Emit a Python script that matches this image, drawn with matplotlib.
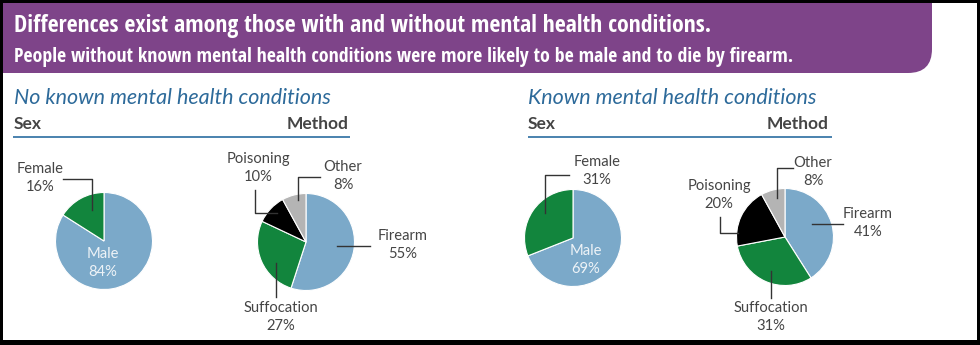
import matplotlib.pyplot as plt
from matplotlib.patches import PathPatch, Rectangle
from matplotlib.path import Path

W, H = 980, 345

title = "Differences exist among those with and without mental health conditions."
subtitle = "People without known mental health conditions were more likely to be male and to die by firearm."

groups = ["No known mental health conditions", "Known mental health conditions"]
sex_labels = ["Male", "Female"]
sex_no = [84, 16]
sex_known = [69, 31]
method_labels = ["Firearm", "Suffocation", "Poisoning", "Other"]
method_no = [55, 27, 10, 8]
method_known = [41, 31, 20, 8]

blue = '#7ba9c9'
green = '#12853d'
sex_colors = [blue, green]
method_colors = [blue, green, '#000000', '#b4b4b4']
purple = '#7e4489'
head_blue = '#2d6a9a'
grey = '#454545'

# layout, in pixels from the top-left corner
panels = [
    dict(head_x=14, rule=(13, 350), method_x=348,
         sex_c=(104, 241), met_c=(306, 242),
         sex_txt={'Female': (40, 178), 'Male': (103, 263)},
         met_txt={'Poisoning': (258, 168), 'Other': (343, 176),
                  'Firearm': (403, 245), 'Suffocation': (281, 317)},
         leaders=[[(63, 179), (92, 179), (92, 210)],
                  [(255, 190), (255, 213), (277, 213)],
                  [(320, 177), (298, 177), (298, 200)],
                  [(370, 246), (337, 246)],
                  [(276, 297), (276, 263)]]),
    dict(head_x=528, rule=(528, 832), method_x=828,
         sex_c=(573, 238), met_c=(785, 237),
         sex_txt={'Female': (597, 171), 'Male': (586, 260)},
         met_txt={'Poisoning': (719, 195), 'Other': (813, 172),
                  'Firearm': (868, 223), 'Suffocation': (771, 317)},
         leaders=[[(569, 175), (545, 175), (545, 213)],
                  [(720, 217), (720, 233), (738, 233)],
                  [(793, 168), (777, 168), (777, 198)],
                  [(843, 224), (812, 224)],
                  [(771, 298), (771, 271)]]),
]
R = 48.5

body = ['Lato', 'DejaVu Sans']
cond = ['Open Sans Condensed', 'DejaVu Sans']

fig = plt.figure(figsize=(W / 100, H / 100), dpi=100, facecolor='black')
ax = fig.add_axes([0, 0, 1, 1])
ax.set_facecolor('white')

# white card inside a black frame
ax.add_patch(Rectangle((3, 3), 974, 337, facecolor='white', edgecolor='none', zorder=0))

# purple banner, round bottom-right corner only
x0, x1, y0, y1, rc = 3, 932, 3, 73, 24
verts = [(x0, y0), (x1, y0), (x1, y1 - rc), (x1, y1), (x1 - rc, y1), (x0, y1), (x0, y0)]
codes = [Path.MOVETO, Path.LINETO, Path.LINETO, Path.CURVE3, Path.CURVE3, Path.LINETO, Path.CLOSEPOLY]
ax.add_patch(PathPatch(Path(verts, codes), facecolor=purple, edgecolor='none', zorder=1))

ax.text(14, 32, title, color='white', fontsize=17.1, fontweight='bold', family=cond, va='baseline', zorder=2)
ax.text(14, 62, subtitle, color='white', fontsize=14.2, fontweight='bold', family=cond, va='baseline', zorder=2)

sex_vals = [sex_no, sex_known]
met_vals = [method_no, method_known]

# y axis runs downward, so pies use startangle=-90 and counterclock=True
# to come out clockwise from 12 o'clock on screen
for i, p in enumerate(panels):
    ax.text(p['head_x'], 104, groups[i], color=head_blue, fontsize=15.5, style='italic',
            family=body, va='baseline')
    ax.text(p['head_x'], 129, 'Sex', color=grey, fontsize=12.5, fontweight='bold', family=body, va='baseline')
    ax.text(p['method_x'], 129, 'Method', color=grey, fontsize=12.5, fontweight='bold', family=body,
            va='baseline', ha='right')
    ax.plot(p['rule'], [137, 137], color='#3c78a8', lw=1.3, solid_capstyle='butt')

    ax.pie(sex_vals[i], colors=sex_colors, center=p['sex_c'], radius=R, startangle=-90,
           counterclock=True, wedgeprops=dict(edgecolor='white', linewidth=0.8))
    ax.pie(met_vals[i], colors=method_colors, center=p['met_c'], radius=R, startangle=-90,
           counterclock=True, wedgeprops=dict(edgecolor='white', linewidth=0.8))

    for lab, v in zip(sex_labels, sex_vals[i]):
        x, y = p['sex_txt'][lab]
        c = '#eef3f7' if lab == 'Male' else grey
        ax.text(x, y, f"{lab}\n{v}%", color=c, fontsize=10.6, family=body, ha='center',
                va='center', linespacing=1.4)
    for lab, v in zip(method_labels, met_vals[i]):
        x, y = p['met_txt'][lab]
        ax.text(x, y, f"{lab}\n{v}%", color=grey, fontsize=10.6, family=body, ha='center',
                va='center', linespacing=1.4)
    for pts in p['leaders']:
        xs, ys = zip(*pts)
        ax.plot(xs, ys, color='#333333', lw=1.0)

ax.set_xlim(0, W)
ax.set_ylim(H, 0)
ax.set_aspect('auto')
ax.axis('off')

fig.savefig('out.png', dpi=100, facecolor='black')
